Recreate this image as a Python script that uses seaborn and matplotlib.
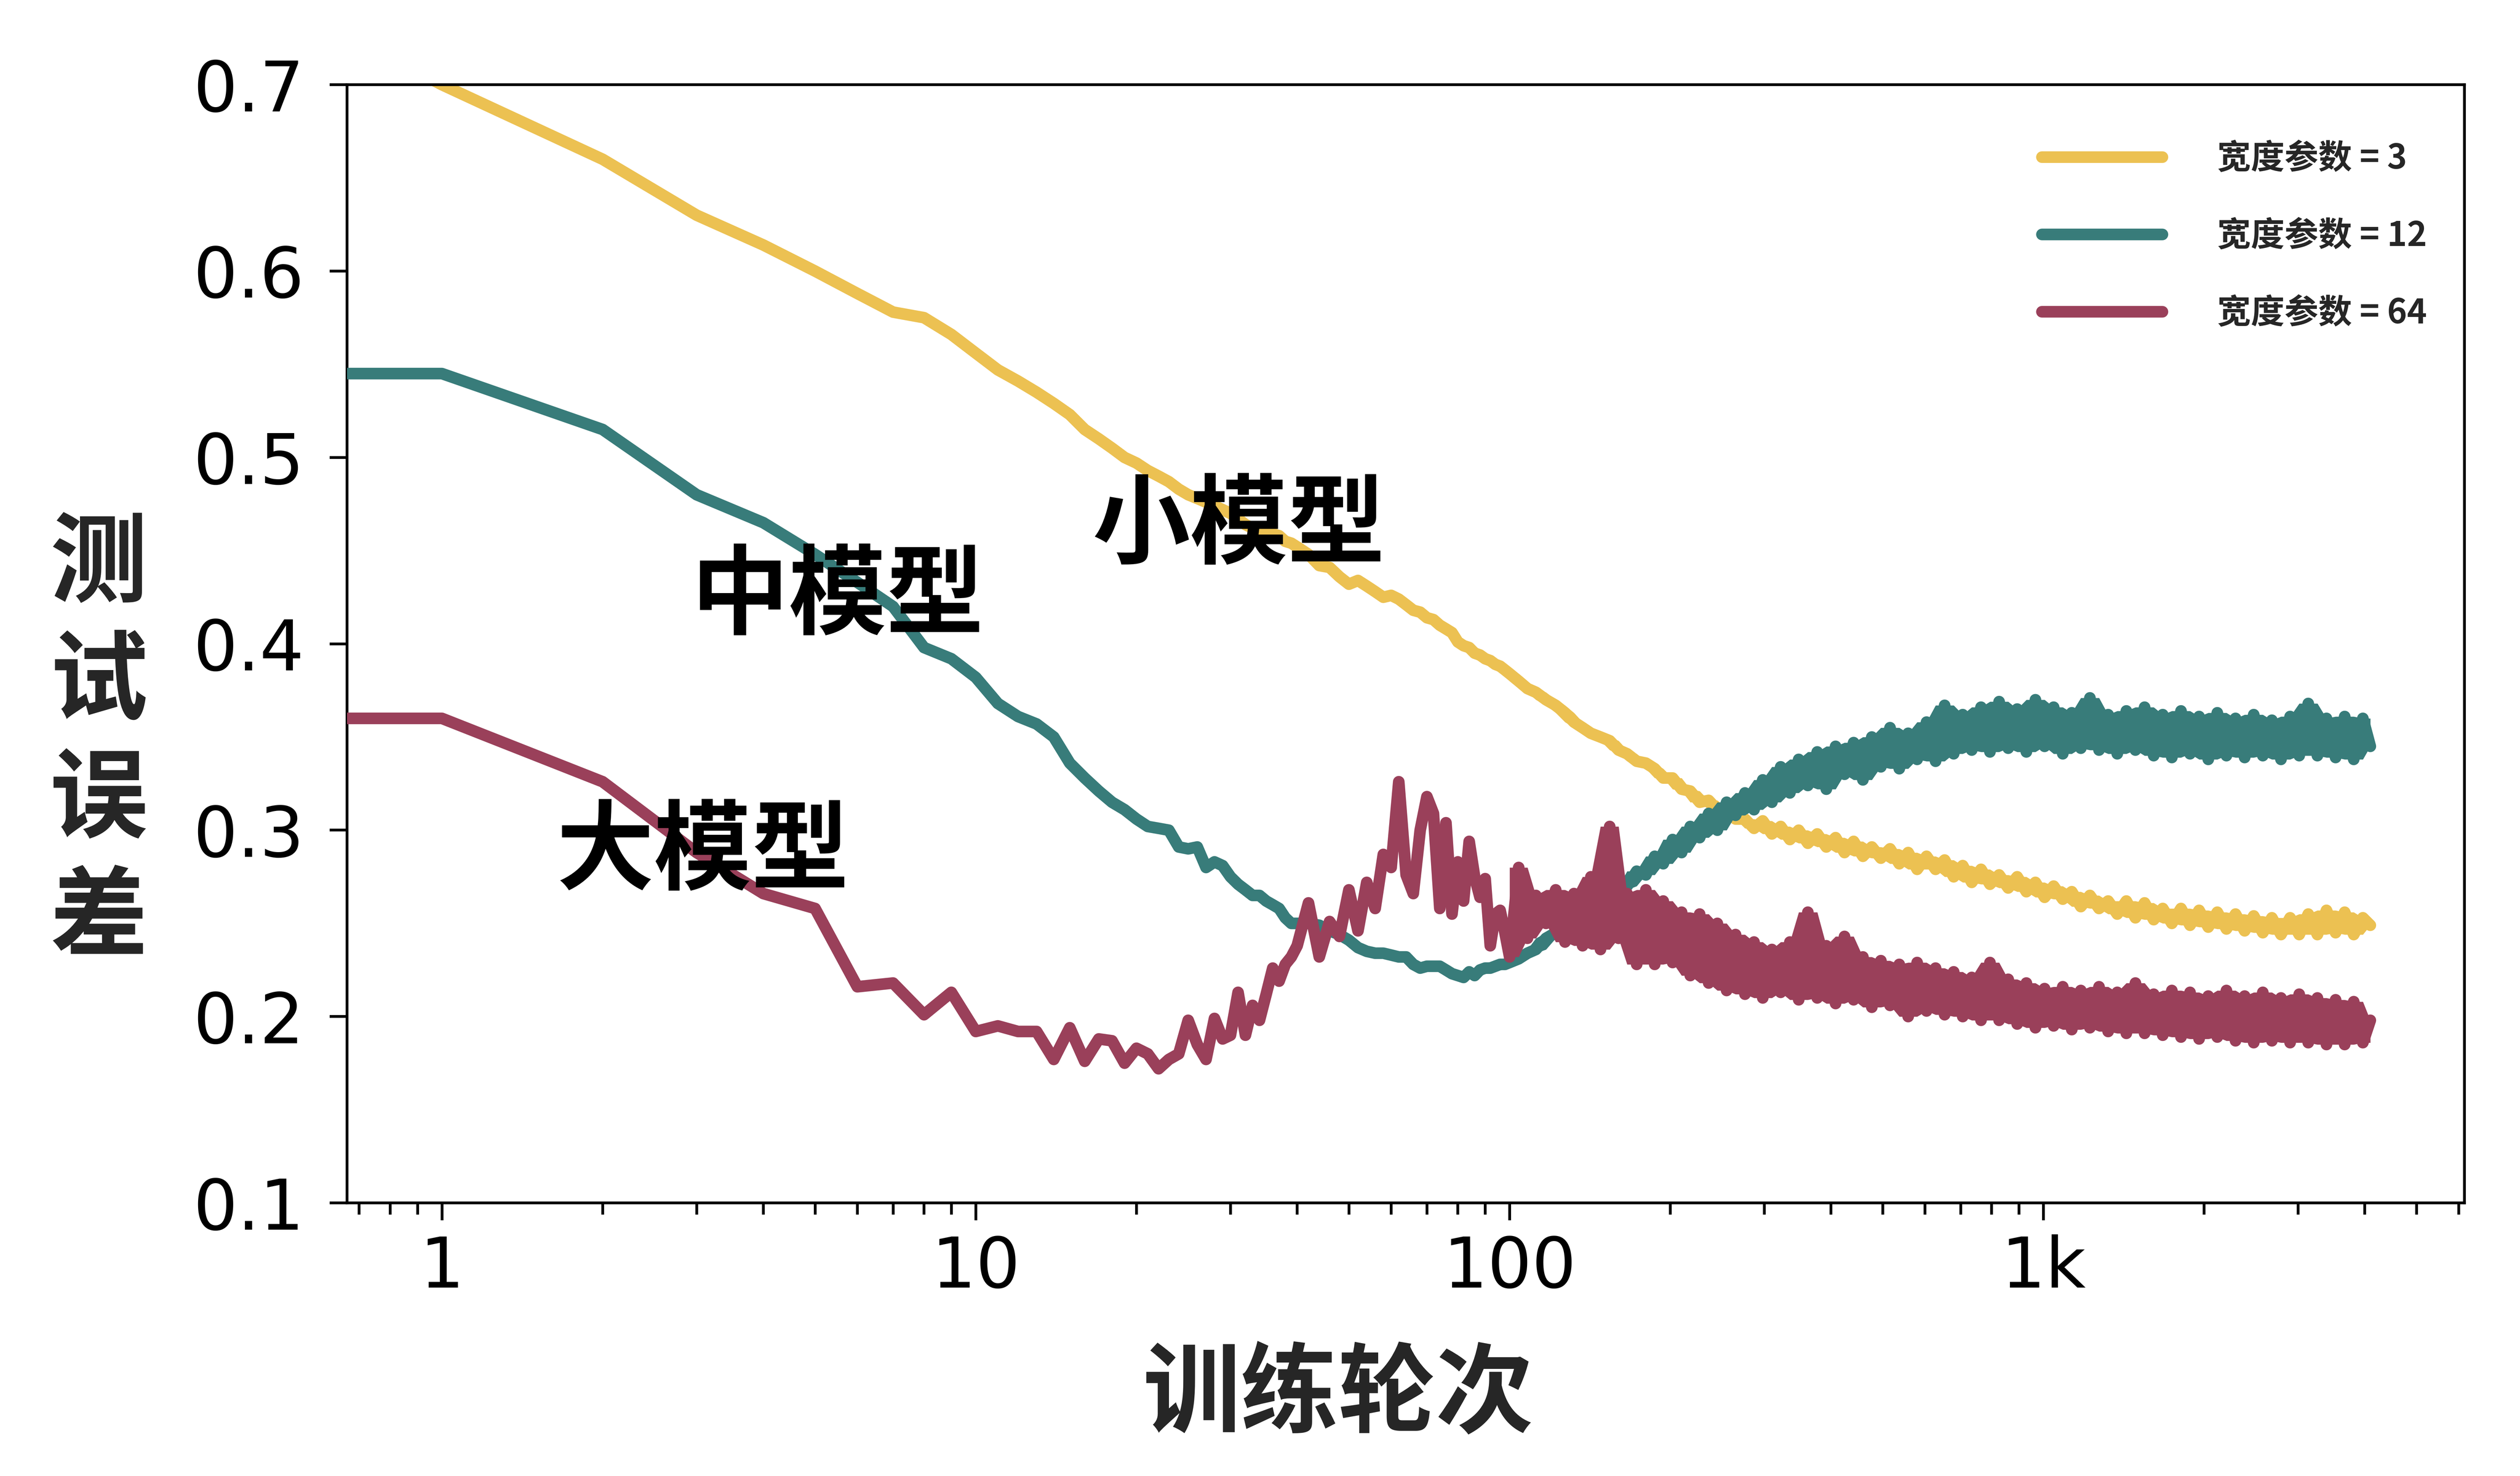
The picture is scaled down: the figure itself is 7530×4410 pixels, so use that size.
import numpy as np
import pandas as pd
import matplotlib
matplotlib.use("Agg")
import matplotlib.pyplot as plt
import seaborn as sns
from matplotlib.ticker import LogLocator, NullFormatter

# labels / colours
widths = ["宽度参数 = 3", "宽度参数 = 12", "宽度参数 = 64"]
colors = ["#ECC152", "#387C7A", "#9A405A"]

# epochs before 100 (first point sits left of the visible range)
early_epochs = [0.5, 1, 2, 3, 4, 5, 6, 7, 8, 9,
                10, 11, 12, 13, 14, 15, 16, 17, 18, 19,
                20, 21, 22, 23, 24, 25, 26, 27, 28, 29,
                30, 31, 32, 33, 34, 35, 36, 37, 38, 39,
                40, 42, 44, 46, 48, 50, 52, 54, 56, 58,
                60, 62, 64, 66, 68, 70, 72, 74, 76, 78,
                80, 82, 84, 86, 88, 90, 92, 94, 96, 98]

late_epochs = [100, 104, 108, 112, 117, 122, 127, 132, 137, 142,
               148, 154, 160, 166, 173, 180, 187, 194, 202, 210,
               218, 227, 236, 245, 255, 265, 276, 287, 298, 310,
               322, 335, 348, 362, 377, 392, 408, 424, 441, 459,
               477, 496, 516, 537, 558, 580, 604, 628, 653, 679,
               706, 734, 764, 794, 826, 859, 893, 929, 966, 1005,
               1045, 1087, 1130, 1175, 1222, 1271, 1322, 1375, 1430, 1487,
               1547, 1609, 1673, 1740, 1810, 1882, 1957, 2036, 2117, 2202,
               2290, 2382, 2477, 2576, 2679, 2786, 2898, 3014, 3134, 3260,
               3390, 3526, 3667, 3813, 3966, 4096]

# test error, width 3 (small model)
small_early = [0.745, 0.700, 0.660, 0.630, 0.614, 0.600, 0.588, 0.578, 0.575, 0.566,
               0.556, 0.547, 0.541, 0.535, 0.529, 0.523, 0.515, 0.510, 0.505, 0.500,
               0.497, 0.493, 0.490, 0.487, 0.483, 0.480, 0.478, 0.476, 0.474, 0.472,
               0.470, 0.467, 0.464, 0.462, 0.461, 0.460, 0.459, 0.458, 0.455, 0.454,
               0.452, 0.448, 0.442, 0.441, 0.436, 0.432, 0.434, 0.431, 0.428, 0.425,
               0.426, 0.424, 0.421, 0.418, 0.417, 0.414, 0.413, 0.410, 0.408, 0.406,
               0.401, 0.399, 0.398, 0.395, 0.394, 0.392, 0.391, 0.389, 0.388, 0.386]
small_late = [0.384, 0.380, 0.376, 0.374, 0.370, 0.367, 0.363, 0.358, 0.355, 0.352,
              0.350, 0.348, 0.343, 0.341, 0.337, 0.336, 0.333, 0.328, 0.328, 0.322,
              0.321, 0.315, 0.316, 0.311, 0.312, 0.306, 0.306, 0.301, 0.305, 0.298,
              0.302, 0.295, 0.300, 0.293, 0.298, 0.291, 0.296, 0.288, 0.294, 0.286,
              0.291, 0.285, 0.290, 0.282, 0.288, 0.279, 0.286, 0.279, 0.284, 0.275,
              0.281, 0.272, 0.279, 0.271, 0.276, 0.269, 0.275, 0.267, 0.272, 0.264,
              0.270, 0.263, 0.267, 0.259, 0.265, 0.258, 0.262, 0.255, 0.262, 0.253,
              0.261, 0.252, 0.258, 0.250, 0.258, 0.249, 0.257, 0.248, 0.256, 0.247,
              0.255, 0.246, 0.254, 0.245, 0.253, 0.244, 0.253, 0.244, 0.255, 0.244,
              0.257, 0.245, 0.256, 0.244, 0.253, 0.249]

# width 12 (medium model)
mid_early = [0.545, 0.545, 0.515, 0.480, 0.465, 0.448, 0.433, 0.420, 0.398, 0.392,
             0.382, 0.368, 0.361, 0.357, 0.350, 0.336, 0.328, 0.321, 0.315, 0.311,
             0.306, 0.302, 0.301, 0.300, 0.291, 0.290, 0.291, 0.280, 0.283, 0.281,
             0.275, 0.271, 0.268, 0.265, 0.265, 0.262, 0.260, 0.258, 0.253, 0.250,
             0.250, 0.250, 0.249, 0.246, 0.244, 0.241, 0.237, 0.235, 0.234, 0.234,
             0.233, 0.232, 0.232, 0.228, 0.226, 0.227, 0.227, 0.227, 0.225, 0.223,
             0.222, 0.221, 0.224, 0.222, 0.225, 0.226, 0.226, 0.227, 0.228, 0.228]
mid_late = [0.229, 0.231, 0.234, 0.236, 0.242, 0.245, 0.249, 0.251, 0.256, 0.257,
            0.262, 0.262, 0.268, 0.270, 0.278, 0.276, 0.286, 0.282, 0.295, 0.288,
            0.302, 0.296, 0.309, 0.300, 0.315, 0.308, 0.320, 0.311, 0.327, 0.315,
            0.334, 0.320, 0.338, 0.324, 0.342, 0.322, 0.345, 0.330, 0.347, 0.327,
            0.350, 0.334, 0.355, 0.333, 0.352, 0.338, 0.358, 0.337, 0.367, 0.341,
            0.362, 0.343, 0.366, 0.342, 0.369, 0.344, 0.365, 0.342, 0.370, 0.345,
            0.366, 0.341, 0.363, 0.344, 0.371, 0.343, 0.362, 0.341, 0.364, 0.343,
            0.366, 0.340, 0.362, 0.339, 0.364, 0.341, 0.361, 0.338, 0.363, 0.340,
            0.360, 0.339, 0.362, 0.340, 0.359, 0.338, 0.361, 0.340, 0.368, 0.340,
            0.360, 0.339, 0.361, 0.338, 0.360, 0.345]

# width 64 (large model)
large_early = [0.360, 0.360, 0.326, 0.288, 0.266, 0.258, 0.216, 0.218, 0.201, 0.213,
               0.192, 0.195, 0.192, 0.192, 0.177, 0.194, 0.176, 0.188, 0.187, 0.175,
               0.183, 0.180, 0.172, 0.177, 0.180, 0.198, 0.185, 0.177, 0.199, 0.188,
               0.190, 0.213, 0.190, 0.206, 0.198, 0.212, 0.226, 0.219, 0.228, 0.232,
               0.238, 0.261, 0.232, 0.251, 0.243, 0.268, 0.246, 0.272, 0.258, 0.287,
               0.280, 0.326, 0.276, 0.266, 0.300, 0.318, 0.309, 0.258, 0.304, 0.255,
               0.283, 0.262, 0.294, 0.275, 0.264, 0.274, 0.238, 0.255, 0.257, 0.245]
large_late = [0.232, 0.280, 0.242, 0.265, 0.250, 0.268, 0.240, 0.266, 0.238, 0.275,
              0.236, 0.302, 0.242, 0.266, 0.228, 0.268, 0.228, 0.262, 0.229, 0.256,
              0.222, 0.255, 0.218, 0.250, 0.214, 0.244, 0.212, 0.240, 0.210, 0.236,
              0.213, 0.240, 0.209, 0.256, 0.210, 0.238, 0.207, 0.243, 0.209, 0.232,
              0.205, 0.230, 0.206, 0.228, 0.200, 0.229, 0.203, 0.226, 0.201, 0.224,
              0.200, 0.221, 0.198, 0.229, 0.198, 0.220, 0.196, 0.218, 0.194, 0.215,
              0.195, 0.216, 0.193, 0.214, 0.194, 0.216, 0.192, 0.213, 0.191, 0.218,
              0.191, 0.212, 0.190, 0.214, 0.189, 0.213, 0.188, 0.211, 0.189, 0.214,
              0.187, 0.211, 0.186, 0.213, 0.187, 0.210, 0.186, 0.212, 0.186, 0.210,
              0.185, 0.209, 0.185, 0.208, 0.186, 0.198]

# annotation text and where it sits (data coords)
notes = ["小模型", "中模型", "大模型"]
note_x = [31.1, 5.51, 3.08]
note_y = [0.4625, 0.4247, 0.2877]

sns.set_style("ticks")
plt.rcParams["font.family"] = ["DejaVu Sans", "Noto Sans CJK SC"]
cjk = ["Noto Sans CJK SC", "DejaVu Sans"]

early_sets = [small_early, mid_early, large_early]
late_sets = [small_late, mid_late, large_late]

frames = []
for label, early, late in zip(widths, early_sets, late_sets):
    frames.append(pd.DataFrame({"epoch": early_epochs + late_epochs,
                                "error": early + late,
                                "model": label}))
df = pd.concat(frames, ignore_index=True)

fig = plt.figure(figsize=(15.06, 8.82), dpi=500)
ax = fig.add_axes([0.1377, 0.185, 0.8403, 0.7576])

sns.lineplot(data=df, x="epoch", y="error", hue="model", hue_order=widths,
             palette=colors, estimator=None, errorbar=None, linewidth=5.0,
             legend=False, ax=ax)
lines = ax.get_lines()[:3]

# the late epochs jitter a lot: shade between neighbouring highs and lows
# so the noisy part reads as a solid band like in the original
for i, (late, col) in enumerate(zip(late_sets, colors)):
    s = pd.Series(late)
    hi = s.rolling(3, center=True, min_periods=1).max()
    lo = s.rolling(3, center=True, min_periods=1).min()
    ax.fill_between(late_epochs, lo, hi, color=col, lw=0, zorder=2 + i - 0.1)
    lines[i].set_zorder(2 + i)

ax.set_xscale("log")
ax.set_xlim(0.664, 6150)
ax.set_ylim(0.1, 0.7)
ax.set_xlabel("")
ax.set_ylabel("")

ax.set_xticks([1, 10, 100, 1000])
ax.set_xticklabels(["1", "10", "100", "1k"])
ax.xaxis.set_minor_locator(LogLocator(base=10, subs=np.arange(2, 10), numticks=20))
ax.xaxis.set_minor_formatter(NullFormatter())
ax.set_yticks([0.1, 0.2, 0.3, 0.4, 0.5, 0.6, 0.7])
ax.set_yticklabels(["0.1", "0.2", "0.3", "0.4", "0.5", "0.6", "0.7"])

ax.tick_params(axis="both", which="major", direction="out", length=7.5, width=1.2,
               labelsize=30, colors="black")
ax.tick_params(axis="x", which="major", pad=6)
ax.tick_params(axis="y", which="major", pad=11)
ax.tick_params(axis="x", which="minor", direction="out", length=5, width=1.2, colors="black")
for s in ax.spines.values():
    s.set_visible(True)
    s.set_linewidth(1.2)
    s.set_color("black")

for txt, x, y in zip(notes, note_x, note_y):
    ax.text(x, y, txt, ha="center", va="center", fontsize=42, fontweight="bold",
            family=cjk, color="black", zorder=6)

fig.text(0.0392, 0.497, "测\n试\n误\n差", ha="center", va="center", fontsize=42,
         fontweight="bold", family=cjk, linespacing=1.24)
fig.text(0.531, 0.054, "训练轮次", ha="center", va="center", fontsize=42,
         fontweight="bold", family=cjk)

ax.legend(handles=lines, labels=widths, loc="upper left",
          bbox_to_anchor=(0.8004, 0.949), frameon=False, borderpad=0,
          borderaxespad=0, handlelength=3.57, handletextpad=1.63,
          labelspacing=1.27, prop={"family": cjk, "weight": "bold", "size": 14.5})

fig.savefig("out.png", dpi=500, facecolor="white")
